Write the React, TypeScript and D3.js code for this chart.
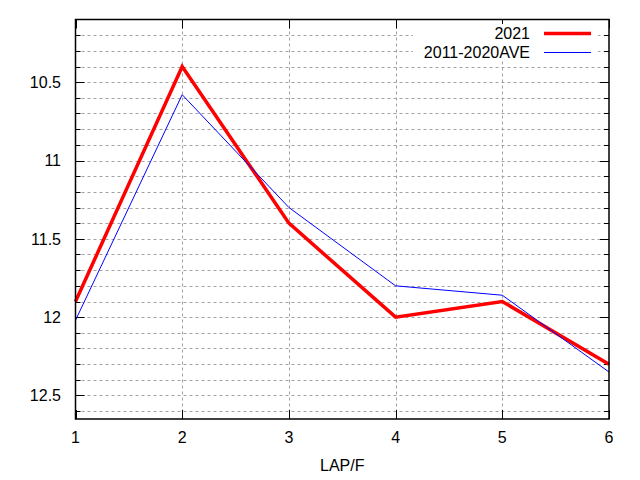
import React, { useEffect, useRef } from 'react';
import * as d3 from 'd3';

const laps = [1, 2, 3, 4, 5, 6];
const series2021 = [11.9, 10.4, 11.4, 12.0, 11.9, 12.3];
const seriesAve = [12.02, 10.58, 11.3, 11.8, 11.86, 12.35];
const yMajorTicks = [10.5, 11, 11.5, 12, 12.5];
const yMinorTicks = d3.range(102, 127).map((v) => v / 10);

const App: React.FC = () => {
  const svgRef = useRef<SVGSVGElement>(null);

  useEffect(() => {
    if (!svgRef.current) return;
    const width = 640;
    const height = 480;
    const margin = { top: 19.5, right: 31, bottom: 61, left: 75.5 };
    const svg = d3.select(svgRef.current);
    svg.selectAll('*').remove();

    const x = d3.scaleLinear().domain([1, 6]).range([margin.left, width - margin.right]);
    const y = d3.scaleLinear().domain([10.1, 12.65]).range([margin.top, height - margin.bottom]);
    const font = 'Liberation Sans, Arial, sans-serif';
    const fs = 16;

    // grid
    const grid = svg.append('g')
      .attr('stroke', '#a0a0a0')
      .attr('stroke-width', 1)
      .attr('stroke-dasharray', '3,3');
    yMinorTicks.forEach((v) => {
      grid.append('line')
        .attr('x1', x(1)).attr('x2', x(6))
        .attr('y1', Math.round(y(v)) + 0.5).attr('y2', Math.round(y(v)) + 0.5);
    });
    laps.slice(1, -1).forEach((v) => {
      grid.append('line')
        .attr('x1', Math.round(x(v)) + 0.5).attr('x2', Math.round(x(v)) + 0.5)
        .attr('y1', y(10.1)).attr('y2', y(12.65));
    });

    // ticks (mirrored)
    const ticks = svg.append('g').attr('stroke', '#000').attr('stroke-width', 1);
    yMinorTicks.forEach((v) => {
      const major = yMajorTicks.includes(v);
      const len = major ? 9 : 5;
      const yy = Math.round(y(v)) + 0.5;
      ticks.append('line').attr('x1', x(1)).attr('x2', x(1) + len).attr('y1', yy).attr('y2', yy);
      ticks.append('line').attr('x1', x(6)).attr('x2', x(6) - len).attr('y1', yy).attr('y2', yy);
    });
    laps.forEach((v) => {
      const xx = Math.round(x(v)) + 0.5;
      ticks.append('line').attr('x1', xx).attr('x2', xx).attr('y1', y(12.65)).attr('y2', y(12.65) - 9);
      ticks.append('line').attr('x1', xx).attr('x2', xx).attr('y1', y(10.1)).attr('y2', y(10.1) + 9);
    });

    // legend background
    svg.append('rect')
      .attr('x', 413).attr('y', 24)
      .attr('width', 185).attr('height', 37)
      .attr('fill', '#fff');

    const line = (data: number[]) =>
      d3.line<number>()
        .x((_, i) => x(laps[i]))
        .y((d) => y(d))(data);

    const plot = svg.append('g');
    plot.append('path')
      .attr('d', line(series2021))
      .attr('fill', 'none')
      .attr('stroke', '#ff0000')
      .attr('stroke-width', 3.5);
    plot.append('path')
      .attr('d', line(seriesAve))
      .attr('fill', 'none')
      .attr('stroke', '#0000ff')
      .attr('stroke-width', 1);

    // border
    svg.append('rect')
      .attr('x', x(1)).attr('y', y(10.1))
      .attr('width', x(6) - x(1)).attr('height', y(12.65) - y(10.1))
      .attr('fill', 'none')
      .attr('stroke', '#000')
      .attr('stroke-width', 1.5);

    // labels
    yMajorTicks.forEach((v) => {
      svg.append('text')
        .attr('x', 61).attr('y', y(v))
        .attr('dy', '0.36em')
        .attr('text-anchor', 'end')
        .attr('font-family', font)
        .attr('font-size', fs)
        .text(String(v));
    });
    laps.forEach((v) => {
      svg.append('text')
        .attr('x', x(v)).attr('y', 437)
        .attr('dy', '0.36em')
        .attr('text-anchor', 'middle')
        .attr('font-family', font)
        .attr('font-size', fs)
        .text(String(v));
    });
    svg.append('text')
      .attr('x', x(3.5)).attr('y', 465)
      .attr('dy', '0.36em')
      .attr('text-anchor', 'middle')
      .attr('font-family', font)
      .attr('font-size', fs)
      .text('LAP/F');

    // legend
    const legend = [
      { name: '2021', color: '#ff0000', w: 3.5, yy: 33.5 },
      { name: '2011-2020AVE', color: '#0000ff', w: 1, yy: 52.5 },
    ];
    legend.forEach((l) => {
      svg.append('text')
        .attr('x', 530).attr('y', l.yy)
        .attr('dy', '0.36em')
        .attr('text-anchor', 'end')
        .attr('font-family', font)
        .attr('font-size', fs)
        .text(l.name);
      svg.append('line')
        .attr('x1', 544).attr('x2', 591)
        .attr('y1', l.yy).attr('y2', l.yy)
        .attr('stroke', l.color)
        .attr('stroke-width', l.w);
    });
  }, []);

  return (
    <div style={{ position: 'absolute', left: 0, top: 0 }}>
      <svg ref={svgRef} width={640} height={480} style={{ display: 'block', background: '#fff' }}></svg>
    </div>
  );
};

export default App;
